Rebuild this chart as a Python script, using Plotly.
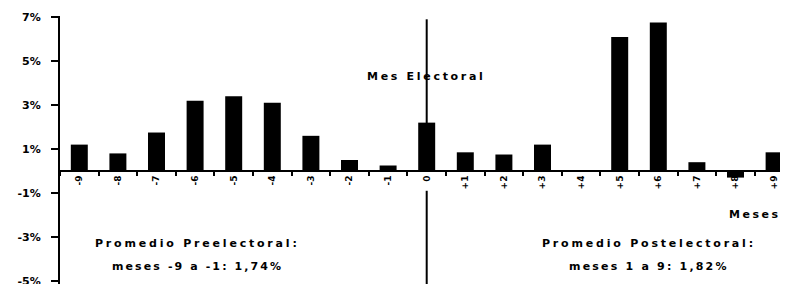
import plotly.graph_objects as go

months = ["-9", "-8", "-7", "-6", "-5", "-4", "-3", "-2", "-1", "0",
          "+1", "+2", "+3", "+4", "+5", "+6", "+7", "+8", "+9"]
values = [1.2, 0.8, 1.75, 3.2, 3.4, 3.1, 1.6, 0.5, 0.25, 2.2,
          0.85, 0.75, 1.2, 0.0, 6.1, 6.75, 0.4, -0.3, 0.85]
y_ticks = [7, 5, 3, 1, -1, -3, -5]
y_tick_labels = ["7%", "5%", "3%", "1%", "-1%", "-3%", "-5%"]


def spaced(txt, px):
    return '<span style="letter-spacing:%.1fpx">%s</span>' % (px, txt)


FONT = "DejaVu Sans"
fig = go.Figure()
fig.add_trace(go.Bar(x=months, y=values, marker=dict(color="black", line=dict(width=0)),
                     width=0.44))

y_min, y_max = -5.14, 7.05
zero_pos = (0 - y_min) / (y_max - y_min)

fig.update_layout(
    width=780, height=276,
    margin=dict(l=52, r=0, t=8, b=0),
    paper_bgcolor="white", plot_bgcolor="white",
    showlegend=False,
    font=dict(family=FONT, color="black", size=10),
    xaxis=dict(type="category", categoryorder="array", categoryarray=months,
               range=[-0.5, 18.36], anchor="free", position=zero_pos,
               automargin=False,
               showline=True, linewidth=2, linecolor="black",
               ticks="outside", tickson="boundaries", ticklen=4, tickwidth=2,
               tickcolor="black", tickangle=-90, showgrid=False, zeroline=False,
               tickfont=dict(family=FONT, size=9, color="black", weight="bold")),
    yaxis=dict(range=[y_min, y_max], tickvals=y_ticks, ticktext=y_tick_labels,
               automargin=False,
               showline=True, linewidth=2, linecolor="black",
               ticks="outside", ticklen=7, tickwidth=2, tickcolor="black",
               ticklabelstandoff=8, ticklabeloverflow="allow",
               showgrid=False, zeroline=False,
               tickfont=dict(family=FONT, size=11, color="black", weight="bold")),
)

idx0 = months.index("0")
fig.add_shape(type="line", xref="x", yref="y", x0=idx0, x1=idx0, y0=6.9, y1=0,
              line=dict(color="black", width=2), layer="below")
fig.add_shape(type="line", xref="x", yref="y", x0=idx0, x1=idx0, y0=-0.9, y1=y_min,
              line=dict(color="black", width=2))

bold = dict(family=FONT, size=11, color="black", weight="bold")
fig.add_annotation(x=idx0, y=4.32, xref="x", yref="y", text=spaced("Mes Electoral", 2.7),
                   showarrow=False, font=bold)
fig.add_annotation(x=0.992, xanchor="right", y=-2.0, xref="paper", yref="y",
                   text=spaced("Meses", 2.5), showarrow=False, font=bold)
fig.add_annotation(x=3.05, y=-3.3, xref="x", yref="y",
                   text=spaced("Promedio Preelectoral:", 2.8), showarrow=False, font=bold)
fig.add_annotation(x=3.05, y=-4.35, xref="x", yref="y",
                   text=spaced("meses -9 a -1: 1,74%", 2.1), showarrow=False, font=bold)
fig.add_annotation(x=14.77, y=-3.3, xref="x", yref="y",
                   text=spaced("Promedio Postelectoral:", 2.8), showarrow=False, font=bold)
fig.add_annotation(x=14.77, y=-4.35, xref="x", yref="y",
                   text=spaced("meses 1 a 9: 1,82%", 2.2), showarrow=False, font=bold)

fig.write_html("out.html")
